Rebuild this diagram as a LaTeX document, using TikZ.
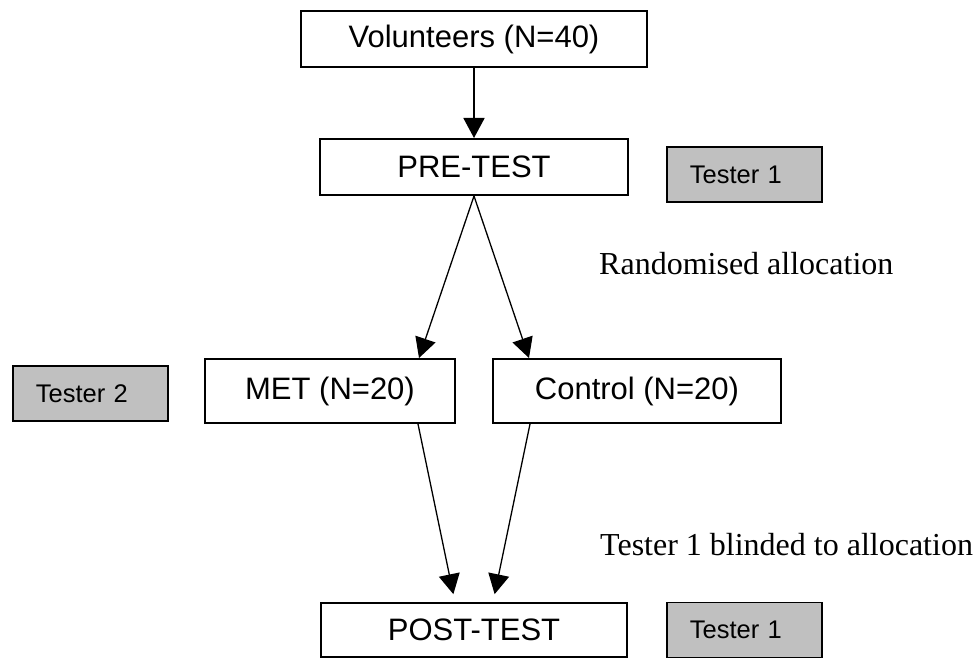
\documentclass[tikz,border=0pt]{standalone}
\usepackage{fontspec}
\setmainfont{Liberation Sans}
\newfontfamily\serifx{Liberation Serif}
\usetikzlibrary{arrows.meta,calc}
\definecolor{boxgray}{HTML}{C0C0C0}
\tikzset{
  mainbox/.style={draw=black, line width=2pt, fill=white, inner sep=0pt,
    font=\fontsize{31}{36}\selectfont},
  graybox/.style={draw=black, line width=1.6pt, fill=boxgray, inner ysep=0pt,
    inner xsep=23pt, text width=109pt, align=left, minimum height=55pt,
    font=\fontsize{25.5}{30}\selectfont},
  arr/.style={line width=1.8pt, -{Triangle[length=20pt,width=21pt]}},
  arrthin/.style={line width=1.3pt, -{Triangle[length=20pt,width=21pt]}},
  lab/.style={anchor=base west, inner sep=0pt, font=\serifx\fontsize{32}{38}\selectfont}
}
\begin{document}
\begin{tikzpicture}[x=1pt,y=-1pt]
\useasboundingbox (0,0) rectangle (979,658);
% main boxes
\node[mainbox, minimum width=346pt, minimum height=56pt] (vol) at (474,39) {Volunteers (N=40)};
\node[mainbox, minimum width=308pt, minimum height=56pt] (pre) at (474,167) {PRE-TEST};
\node[mainbox, minimum width=250pt, minimum height=64pt] (met) at (330,391) {MET (N=20)};
\node[mainbox, minimum width=288pt, minimum height=64pt] (con) at (637,391) {Control (N=20)};
\node[mainbox, minimum width=306pt, minimum height=54pt] (post) at (474,630) {POST-TEST};
% gray tester boxes
\node[graybox, anchor=west] (t1a) at (666,174.5) {Tester 1};
\node[graybox, anchor=west] (t2) at (12,393.5) {Tester 2};
\node[graybox, anchor=west] (t1b) at (666,630) {Tester 1};
% labels
\node[lab] (rand) at (599,274) {Randomised allocation};
\node[lab] (blind) at (600,555) {Tester 1 blinded to allocation};
% connectors
\draw[arr] (vol.south) -- (pre.north);
\draw[arrthin] (pre.south) -- ($(met.north east)+(-37,0)$);
\draw[arrthin] (pre.south) -- ($(con.north west)+(37,0)$);
\draw[arrthin, shorten >=8pt] ($(met.south east)+(-38,0)$) -- ($(post.north)+(-19,0)$);
\draw[arrthin, shorten >=8pt] ($(con.south west)+(38,0)$) -- ($(post.north)+(19,0)$);
\end{tikzpicture}
\end{document}
